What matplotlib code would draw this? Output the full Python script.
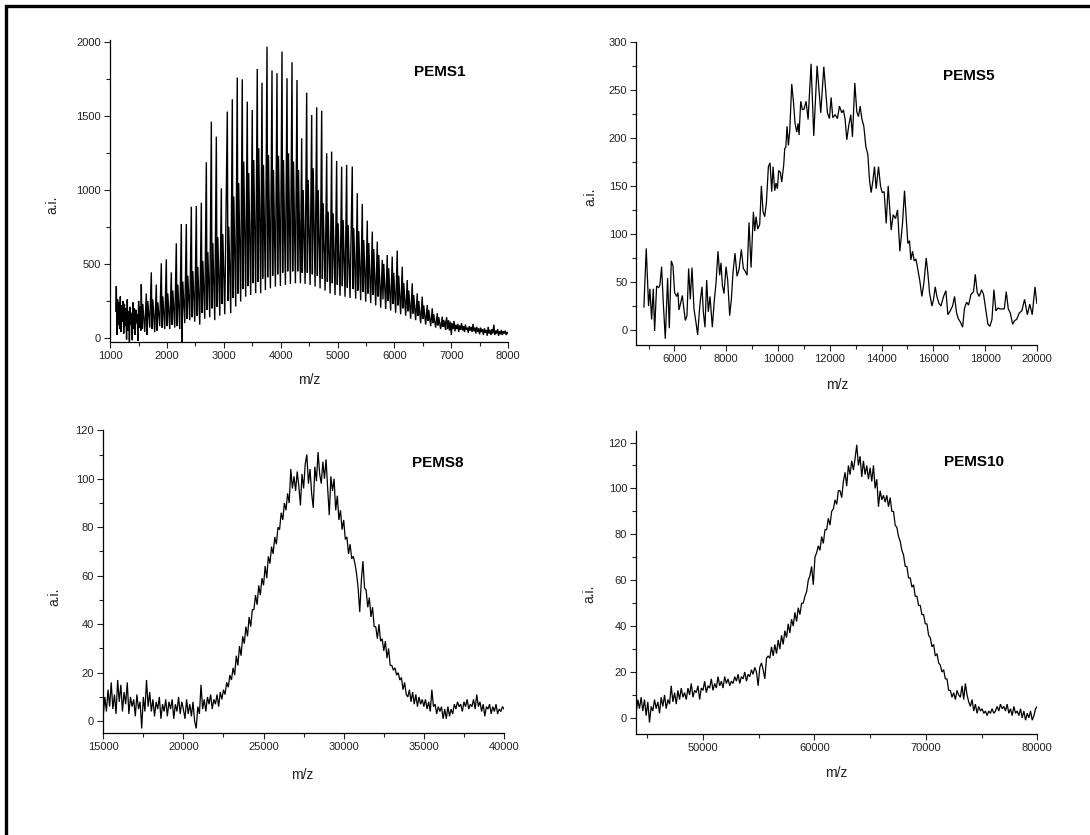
import numpy as np
import matplotlib
matplotlib.use("Agg")
import matplotlib.pyplot as plt
from matplotlib.ticker import MultipleLocator
from matplotlib.lines import Line2D

plt.rcParams['font.family'] = ['Liberation Sans', 'DejaVu Sans']

# ---------------- PEMS1 ----------------
p1_lead_mz = [1100, 1108, 1118, 1130, 1142, 1152, 1165, 1178, 1190, 1200, 1212, 1225, 1238, 1250,
              1262, 1275, 1288, 1300, 1312, 1325, 1338, 1350, 1362, 1375, 1388, 1400, 1412, 1425,
              1438, 1450, 1462, 1475, 1488, 1500, 1512, 1525, 1538]
p1_lead_int = [180, 350, 20, 260, 90, 240, 60, 280, 40, 220, 110, 250, 30, 230,
               80, 200, -10, 260, 50, 180, -25, 210, 90, 170, -15, 240, 60, 200,
               20, 190, 100, 160, -20, 250, 70, 210, 50]
# repeating oligomer pattern: main peak, dip, secondary peak, valley (m/z offsets within one repeat)
p1_feature_offset = [0, 12, 26, 60]
p1_period_mz = [1547, 1635, 1723, 1811, 1899, 1987, 2075, 2163, 2251, 2339, 2427, 2515, 2603,
                2691, 2779, 2867, 2955, 3060, 3148, 3235, 3323, 3411, 3499, 3587, 3670, 3758,
                3846, 3934, 4022, 4110, 4198, 4286, 4368, 4456, 4544, 4632, 4720, 4808, 4895,
                4983, 5071, 5159, 5258, 5346, 5434, 5522, 5610, 5698, 5786, 5873, 5961, 6049,
                6137, 6225, 6313, 6401, 6489, 6577, 6665, 6753, 6841]
p1_peak = [362, 300, 443, 360, 504, 531, 443, 639, 769, 769, 886, 891, 913,
           1186, 1460, 1359, 1010, 1528, 1611, 1757, 1746, 1595, 1539, 1816, 1723, 1966,
           1805, 1787, 1933, 1753, 1861, 1741, 1348, 1656, 1505, 1557, 1534, 1247, 1258,
           1195, 1157, 1168, 1157, 977, 905, 792, 718, 650, 527, 560, 549, 590,
           481, 391, 369, 301, 279, 223, 200, 167, 144]
p1_dip = [60, 20, 60, 50, 70, 80, 90, 80, -25, 130, 140, 150, 170,
          190, 200, 210, 230, 250, 270, 300, 330, 350, 370, 380, 400, 410,
          420, 430, 440, 450, 450, 450, 440, 440, 430, 420, 400, 380, 370,
          360, 350, 340, 330, 320, 310, 300, 290, 280, 260, 250, 230, 220,
          200, 180, 165, 150, 130, 115, 100, 85, 75]
p1_second = [230, 250, 260, 240, 280, 300, 320, 360, 380, 420, 450, 480, 520,
             580, 640, 680, 700, 751, 954, 1044, 1190, 1112, 1201, 1280, 1168, 1235,
             1134, 1229, 1201, 1246, 1190, 1134, 999, 1067, 1145, 999, 909, 852, 841,
             774, 796, 763, 740, 720, 660, 640, 600, 560, 500, 470, 440, 420,
             370, 320, 290, 250, 220, 190, 160, 140, 120]
p1_valley = [40, 70, 40, 80, 60, 60, 70, 60, 100, 120, 110, 90, 130,
             140, 120, 150, 160, 167, 212, 246, 279, 290, 302, 302, 324, 335,
             347, 352, 358, 365, 369, 369, 365, 358, 347, 335, 320, 300, 290,
             285, 279, 270, 265, 255, 245, 235, 220, 205, 195, 185, 170, 160,
             150, 130, 120, 100, 90, 80, 70, 60, 55]
p1_tail_mz = [6900, 6918, 6935, 6952, 6968, 6985, 7000, 7015, 7032, 7048, 7065, 7080, 7098, 7115,
              7130, 7148, 7165, 7180, 7198, 7215, 7232, 7248, 7265, 7282, 7298, 7315, 7332, 7348,
              7365, 7382, 7398, 7415, 7432, 7448, 7465, 7482, 7498, 7515, 7532, 7548, 7565, 7582,
              7598, 7615, 7632, 7648, 7665, 7682, 7698, 7715, 7732, 7748, 7765, 7782, 7798, 7815,
              7832, 7848, 7865, 7882, 7898, 7915, 7932, 7948, 7965, 7982, 8000]
p1_tail_int = [100, 140, 60, 120, 50, 110, 20, 100, 60, 115, 45, 90, 60, 95,
               40, 85, 55, 100, 50, 80, 40, 90, 55, 70, 35, 80, 50, 75,
               40, 95, 45, 70, 30, 75, 40, 65, 25, 70, 40, 60, 20, 65,
               35, 55, 15, 75, 30, 55, 20, 60, 30, 90, 20, 50, 30, 60,
               15, 45, 25, 55, 20, 45, 30, 50, 20, 40, 30]

# ---------------- PEMS5 ----------------
p5_mz = [4818, 4908, 4998, 5050, 5116, 5180, 5232, 5309, 5386, 5437, 5502, 5566, 5644, 5734,
         5799, 5876, 5941, 6005, 6083, 6134, 6173, 6237, 6302, 6366, 6418, 6482, 6547, 6611,
         6676, 6753, 6830, 6895, 6959, 7011, 7062, 7114, 7178, 7243, 7307, 7372, 7462, 7539,
         7604, 7681, 7746, 7797, 7849, 7913, 7990, 8055, 8132, 8197, 8261, 8339, 8416, 8493,
         8584, 8661, 8738, 8803, 8880, 8958, 9048, 9100, 9151, 9216, 9293, 9357, 9422, 9486,
         9550, 9628, 9692, 9757, 9808, 9873, 9924, 9976, 10027, 10092, 10143, 10221, 10260, 10300,
         10350, 10401, 10453, 10530, 10595, 10659, 10724, 10775, 10814, 10878, 10943, 11007, 11085, 11162,
         11278, 11381, 11510, 11652, 11770, 11910, 11987, 12052, 12116, 12206, 12297, 12374, 12464, 12529,
         12593, 12658, 12735, 12812, 12877, 12967, 13045, 13109, 13174, 13238, 13316, 13393, 13470, 13535,
         13599, 13664, 13728, 13793, 13883, 13960, 14025, 14102, 14180, 14257, 14373, 14450, 14540, 14618,
         14708, 14811, 14888, 14953, 15017, 15082, 15133, 15198, 15262, 15327, 15404, 15481, 15559, 15636,
         15726, 15791, 15855, 15946, 16010, 16075, 16139, 16216, 16294, 16397, 16487, 16564, 16654, 16745,
         16822, 16899, 16964, 17054, 17131, 17208, 17286, 17363, 17453, 17556, 17621, 17698, 17775, 17866,
         17943, 18020, 18111, 18188, 18266, 18343, 18420, 18498, 18588, 18665, 18743, 18820, 18898, 18975,
         19065, 19143, 19219, 19326, 19420, 19528, 19635, 19729, 19823, 19930, 20000]
p5_int = [24, 85, 25, 43, 11, 43, -1, 46, 44, 47, 66, 29, -9, 54,
          2, 72, 67, 39, 35, 39, 21, 28, 36, 22, 10, 15, 64, 32,
          65, 22, 8, -5, 19, 34, 45, 19, 3, 52, 19, 35, 3, 31,
          49, 82, 57, 70, 47, 38, 66, 52, 15, 32, 60, 80, 56, 63,
          84, 64, 61, 57, 112, 65, 123, 103, 118, 105, 110, 150, 123, 118,
          132, 170, 174, 144, 170, 145, 153, 147, 166, 164, 154, 172, 189, 190,
          212, 192, 207, 256, 238, 215, 206, 215, 203, 238, 229, 230, 238, 219,
          277, 202, 275, 226, 274, 226, 220, 242, 221, 224, 220, 233, 226, 229,
          219, 198, 213, 224, 201, 257, 227, 222, 233, 220, 212, 191, 183, 156,
          143, 155, 170, 147, 170, 150, 143, 144, 111, 150, 104, 120, 116, 125,
          82, 111, 145, 118, 90, 93, 73, 82, 72, 74, 63, 51, 35, 49,
          75, 59, 39, 25, 32, 45, 35, 28, 25, 35, 41, 16, 20, 25,
          35, 18, 12, 8, 3, 23, 29, 26, 37, 40, 58, 39, 35, 42,
          37, 23, 6, 4, 11, 42, 20, 23, 22, 22, 22, 40, 22, 18,
          6, 10, 11, 18, 20, 32, 16, 27, 16, 45, 28]

# ---------------- PEMS8 (sampled every 100 m/z from 15000) ----------------
p8_start, p8_step = 15000, 100
p8_int = [2, 10, 4, 13, 6, 16, 5, 11, 3, 17,
          8, 15, 4, 12, 7, 16, 3, 10, 6, 9,
          2, 11, 5, 8, -3, 10, 4, 17, 6, 12,
          4, 9, 2, 8, 5, 10, 1, 7, 4, 9,
          2, 8, 5, 9, 1, 7, 4, 10, 3, 8,
          5, 1, 9, 3, 7, 2, 8, 0, -3, 6,
          3, 15, 5, 9, 4, 10, 7, 11, 5, 9,
          7, 11, 6, 12, 9, 13, 11, 16, 14, 19,
          17, 22, 19, 27, 23, 31, 27, 35, 32, 39,
          35, 43, 39, 46, 46, 52, 48, 56, 52, 59,
          56, 64, 59, 68, 65, 72, 69, 76, 73, 80,
          79, 86, 83, 90, 87, 94, 90, 104, 96, 101,
          95, 103, 97, 89, 102, 96, 106, 110, 98, 104,
          94, 88, 105, 99, 111, 102, 98, 107, 100, 108,
          96, 85, 101, 95, 100, 87, 93, 83, 87, 79,
          83, 75, 76, 69, 73, 67, 68, 65, 61, 55,
          45, 58, 66, 55, 54, 47, 51, 43, 47, 39,
          39, 34, 40, 33, 34, 29, 33, 26, 30, 23,
          23, 21, 22, 19, 20, 17, 18, 13, 16, 11,
          10, 13, 8, 12, 7, 11, 6, 10, 7, 9,
          6, 9, 5, 8, 4, 13, 6, 7, 3, 6,
          4, 6, 1, 5, 1, 6, 2, 5, 3, 7,
          5, 8, 6, 7, 4, 8, 6, 9, 5, 7,
          6, 9, 5, 11, 6, 8, 4, 7, 2, 6,
          5, 7, 3, 6, 4, 7, 3, 5, 4, 6,
          5]

# ---------------- PEMS10 (sampled every 150 m/z from 44000) ----------------
p10_start, p10_step = 44000, 150
p10_int = [2, 8, 4, 9, 3, 8, 1, 7, -2, 5,
           3, 8, 4, 7, 2, 9, 5, 10, 4, 8,
           6, 14, 7, 11, 6, 12, 8, 13, 9, 11,
           8, 13, 10, 15, 9, 12, 11, 14, 8, 13,
           12, 16, 11, 14, 13, 17, 12, 15, 13, 18,
           14, 16, 13, 18, 15, 17, 14, 16, 15, 18,
           16, 19, 15, 18, 17, 20, 16, 19, 18, 21,
           19, 22, 20, 14, 22, 24, 21, 17, 26, 27,
           26, 31, 27, 32, 28, 34, 30, 36, 32, 38,
           35, 41, 37, 43, 40, 46, 42, 48, 45, 50,
           50, 53, 55, 60, 62, 66, 58, 70, 72, 75,
           73, 79, 76, 82, 82, 87, 84, 90, 91, 95,
           93, 99, 99, 96, 103, 107, 101, 110, 106, 112,
           108, 113, 119, 110, 114, 105, 112, 106, 110, 104,
           109, 103, 110, 100, 104, 92, 99, 95, 97, 94,
           97, 92, 96, 90, 90, 84, 83, 79, 77, 73,
           71, 66, 66, 61, 61, 57, 58, 53, 53, 49,
           49, 45, 45, 41, 41, 36, 35, 31, 32, 27,
           28, 24, 23, 20, 21, 17, 17, 12, 12, 9,
           11, 8, 12, 10, 9, 14, 8, 15, 10, 7,
           5, 8, 3, 6, 2, 5, 3, 4, 2, 3,
           1, 3, 2, 4, 2, 3, 5, 3, 6, 4,
           5, 3, 6, 2, 4, 1, 5, 2, 3, 1,
           4, 0, 3, -1, 2, 0, 3, -1, 1, 4,
           5]

titles = ["PEMS1", "PEMS5", "PEMS8", "PEMS10"]

# assemble PEMS1 trace
p1_x = list(p1_lead_mz)
p1_y = list(p1_lead_int)
for m, a, b, c, d in zip(p1_period_mz, p1_peak, p1_dip, p1_second, p1_valley):
    for off, val in zip(p1_feature_offset, (a, b, c, d)):
        p1_x.append(m + off)
        p1_y.append(val)
p1_x += p1_tail_mz
p1_y += p1_tail_int

p8_x = p8_start + p8_step * np.arange(len(p8_int))
p10_x = p10_start + p10_step * np.arange(len(p10_int))

fig = plt.figure(figsize=(10.9, 8.35), dpi=100)

panels = [
    dict(rect=[0.1011, 0.5908, 0.3651, 0.3611], x=p1_x, y=p1_y, xlim=(1000, 8000), ylim=(-25, 2010),
         xmaj=1000, xmin=500, ymaj=500, ymin=250, lw=1.0, title_pos=(0.828, 0.895),
         ylab=(-0.146, 0.453), xlab=(0.499, -0.127)),
    dict(rect=[0.5839, 0.5874, 0.3673, 0.3627], x=p5_mz, y=p5_int, xlim=(4530, 20000), ylim=(-15, 300),
         xmaj=2000, xmin=1000, ymaj=50, ymin=25, lw=0.9, title_pos=(0.831, 0.887),
         ylab=(-0.115, 0.488), xlab=(0.501, -0.134)),
    dict(rect=[0.0947, 0.1218, 0.3677, 0.3629], x=p8_x, y=p8_int, xlim=(15000, 40000), ylim=(-5, 120),
         xmaj=5000, xmin=2500, ymaj=20, ymin=10, lw=0.9, title_pos=(0.835, 0.891),
         ylab=(-0.123, 0.451), xlab=(0.497, -0.138)),
    dict(rect=[0.5836, 0.1210, 0.3680, 0.3628], x=p10_x, y=p10_int, xlim=(44000, 80000), ylim=(-7, 125),
         xmaj=10000, xmin=5000, ymaj=20, ymin=10, lw=0.9, title_pos=(0.843, 0.899),
         ylab=(-0.116, 0.464), xlab=(0.499, -0.130)),
]

for p, title in zip(panels, titles):
    ax = fig.add_axes(p["rect"])
    ax.plot(p["x"], p["y"], color="black", lw=p["lw"], solid_joinstyle="miter")
    ax.set_xlim(*p["xlim"])
    ax.set_ylim(*p["ylim"])
    ax.xaxis.set_major_locator(MultipleLocator(p["xmaj"]))
    ax.xaxis.set_minor_locator(MultipleLocator(p["xmin"]))
    ax.yaxis.set_major_locator(MultipleLocator(p["ymaj"]))
    ax.yaxis.set_minor_locator(MultipleLocator(p["ymin"]))
    for s in ("top", "right"):
        ax.spines[s].set_visible(False)
    for s in ("left", "bottom"):
        ax.spines[s].set_linewidth(0.9)
    ax.tick_params(which="major", direction="out", length=4.5, width=0.8,
                   labelsize=8, pad=2, colors="#222222")
    ax.tick_params(which="minor", direction="out", length=3, width=0.8, colors="#222222")
    ax.set_xlabel("m/z", fontsize=10, color="#222222")
    ax.set_ylabel("a.i.", fontsize=10, color="#222222")
    ax.xaxis.set_label_coords(*p["xlab"])
    ax.yaxis.set_label_coords(*p["ylab"])
    ax.xaxis.label.set_va("center")
    ax.yaxis.label.set_va("center")
    ax.text(p["title_pos"][0], p["title_pos"][1], title, transform=ax.transAxes,
            ha="center", va="center", fontsize=11, fontweight="bold", color="black")

# outer frame (only top and left edges fall inside the picture)
fw, fh = 1090.0, 835.0
fig.add_artist(Line2D([5.8 / fw, 5.8 / fw, 1.0], [0.0, 1 - 5.8 / fh, 1 - 5.8 / fh],
                      transform=fig.transFigure, color="black", lw=2.4,
                      solid_joinstyle="miter"))

fig.savefig("out.png", dpi=100)
